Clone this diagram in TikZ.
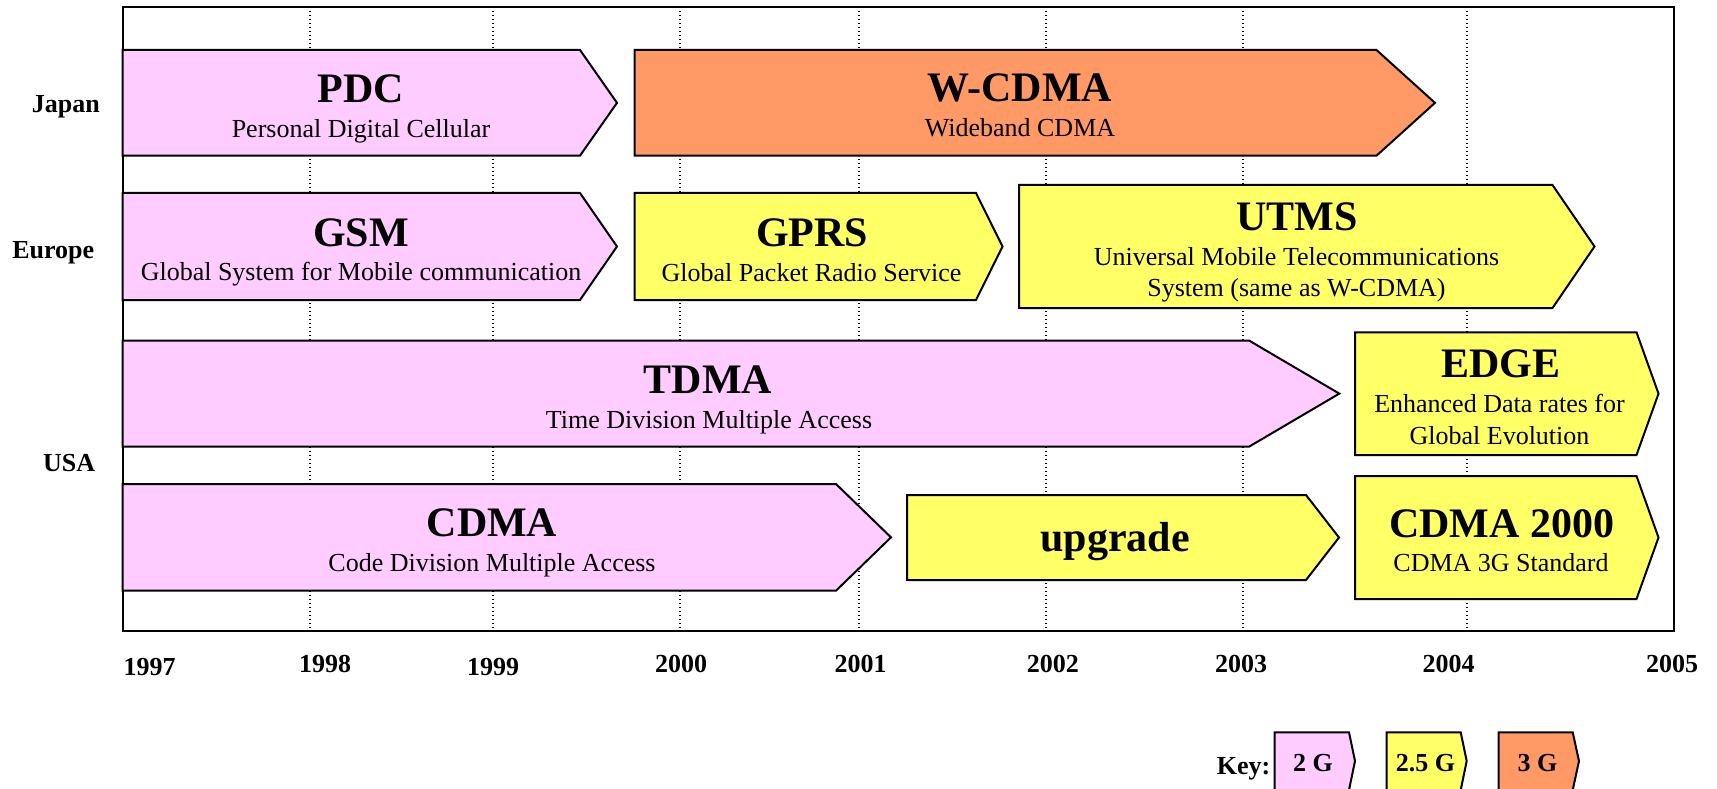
\documentclass[tikz,border=0pt]{standalone}
\usepackage{fontspec}
\setmainfont{Liberation Serif}
\usepackage{tikz}
\definecolor{pinkG}{HTML}{FFCCFF}
\definecolor{yellowG}{HTML}{FFFF66}
\definecolor{orangeG}{HTML}{FF9966}

\begin{document}
\begin{tikzpicture}[x=1pt, y=-1pt, line join=miter,
    box/.style={draw=black, line width=2pt},
    grid/.style={line width=1.3pt, dash pattern=on 1.3pt off 2.7pt},
    title/.style={font=\fontsize{42}{48}\selectfont\bfseries, anchor=base, inner sep=0pt},
    sub/.style={font=\fontsize{26}{31.7}\selectfont, anchor=base, inner sep=0pt, align=center},
    lbl/.style={font=\fontsize{26}{30}\selectfont\bfseries, anchor=base, inner sep=0pt}]
      \useasboundingbox (0,0) rectangle (1717,789);
      \def\xl{122.6}
      \def\yt{6.7}
      \def\xr{1674}
      \def\yb{630.7}

      % Year grid
      \draw[grid] (310,\yt) -- (310,\yb);
      \draw[grid] (493,\yt) -- (493,\yb);
      \draw[grid] (680,\yt) -- (680,\yb);
      \draw[grid] (859,\yt) -- (859,\yb);
      \draw[grid] (1046,\yt) -- (1046,\yb);
      \draw[grid] (1243,\yt) -- (1243,\yb);
      \draw[grid] (1467,\yt) -- (1467,\yb);
      % Frame
      \draw[line width=2pt] (\xl,\yt) rectangle (\xr,\yb);

      % Japan
      \draw[box, fill=pinkG] (\xl,50) -- (580,50) -- (617,102.85) -- (580,155.7) -- (\xl,155.7) -- cycle;
      \draw[box, fill=orangeG] (634.5,50) -- (1376.5,50) -- (1435,102.85) -- (1376.5,155.7) -- (634.5,155.7) -- cycle;
      % Europe
      \draw[box, fill=pinkG] (\xl,193) -- (580,193) -- (617,246.5) -- (580,300) -- (\xl,300) -- cycle;
      \draw[box, fill=yellowG] (634.5,193) -- (976,193) -- (1002.5,246.5) -- (976,300) -- (634.5,300) -- cycle;
      \draw[box, fill=yellowG] (1019,185) -- (1552.5,185) -- (1594.5,246.5) -- (1552.5,308) -- (1019,308) -- cycle;
      % USA
      \draw[box, fill=pinkG] (\xl,340.5) -- (1249,340.5) -- (1339.3,393.6) -- (1249,446.7) -- (\xl,446.7) -- cycle;
      \draw[box, fill=pinkG] (\xl,484) -- (836,484) -- (891,537.35) -- (836,590.7) -- (\xl,590.7) -- cycle;
      \draw[box, fill=yellowG] (907,495) -- (1306,495) -- (1339,537.5) -- (1306,580) -- (907,580) -- cycle;
      \draw[box, fill=yellowG] (1355,332.3) -- (1636.5,332.3) -- (1658.5,393.65) -- (1636.5,455) -- (1355,455) -- cycle;
      \draw[box, fill=yellowG] (1355,476) -- (1636.5,476) -- (1658.5,537.5) -- (1636.5,599) -- (1355,599) -- cycle;
      % Key
      \draw[box, fill=pinkG] (1274.7,732.3) -- (1349,732.3) -- (1355,761) -- (1349,790) -- (1274.7,790) -- cycle;
      \draw[box, fill=yellowG] (1386.7,732.3) -- (1460.7,732.3) -- (1466.7,761) -- (1460.7,790) -- (1386.7,790) -- cycle;
      \draw[box, fill=orangeG] (1498.7,732.3) -- (1572.7,732.3) -- (1579,761) -- (1572.7,790) -- (1498.7,790) -- cycle;

      % Box texts (two-line nodes sit on their last line)
      \node[title] (pdc) at (360.5,102.7) {PDC};
      \node[sub] (pdcsub) at (361,137.3) {Personal Digital Cellular};
      \node[title] (wcdma) at (1019.6,101.7) {W-CDMA};
      \node[sub] (wcdmasub) at (1020,136.7) {Wideband CDMA};
      \node[title] (gsm) at (361,246.7) {GSM};
      \node[sub] (gsmsub) at (361,280) {Global System for Mobile communication};
      \node[title] (gprs) at (812,246) {GPRS};
      \node[sub] (gprssub) at (811.5,281) {Global Packet Radio Service};
      \node[title] (utms) at (1296.7,230) {UTMS};
      \node[sub] (utmssub) at (1296.5,296.7) {Universal Mobile Telecommunications\\System (same as W-CDMA)};
      \node[title] (tdma) at (708,393.3) {TDMA};
      \node[sub] (tdmasub) at (709,428.3) {Time Division Multiple Access};
      \node[title] (cdma) at (492,536.7) {CDMA};
      \node[sub] (cdmasub) at (492,571.7) {Code Division Multiple Access};
      \node[title] (upgrade) at (1115,551.7) {upgrade};
      \node[title] (edge) at (1500.7,377.3) {EDGE};
      \node[sub] (edgesub) at (1499.5,444) {Enhanced Data rates for\\Global Evolution};
      \node[title] (cdmatwo) at (1501.7,537.3) {CDMA 2000};
      \node[sub] (cdmatwosub) at (1501,571.7) {CDMA 3G Standard};

      % Row labels
      \node[lbl] (japan) at (65.8,112.7) {Japan};
      \node[lbl] (europe) at (53.3,258.3) {Europe};
      \node[lbl] (usa) at (69.2,471.7) {USA};

      % Years
      \node[lbl] (y1997) at (149.5,675) {1997};
      \node[lbl] (y1998) at (325,672.7) {1998};
      \node[lbl] (y1999) at (493,675) {1999};
      \node[lbl] (y2000) at (681,672.7) {2000};
      \node[lbl] (y2001) at (860.5,672.7) {2001};
      \node[lbl] (y2002) at (1052.8,672.7) {2002};
      \node[lbl] (y2003) at (1241,672.7) {2003};
      \node[lbl] (y2004) at (1448.5,672.7) {2004};
      \node[lbl] (y2005) at (1672,672.7) {2005};

      % Key labels
      \node[lbl] (key) at (1243.5,774) {Key:};
      \node[lbl] (key2g) at (1313,771.7) {2 G};
      \node[lbl] (key25g) at (1425.5,771.7) {2.5 G};
      \node[lbl] (key3g) at (1537.5,771.7) {3 G};
    \end{tikzpicture}
\end{document}
